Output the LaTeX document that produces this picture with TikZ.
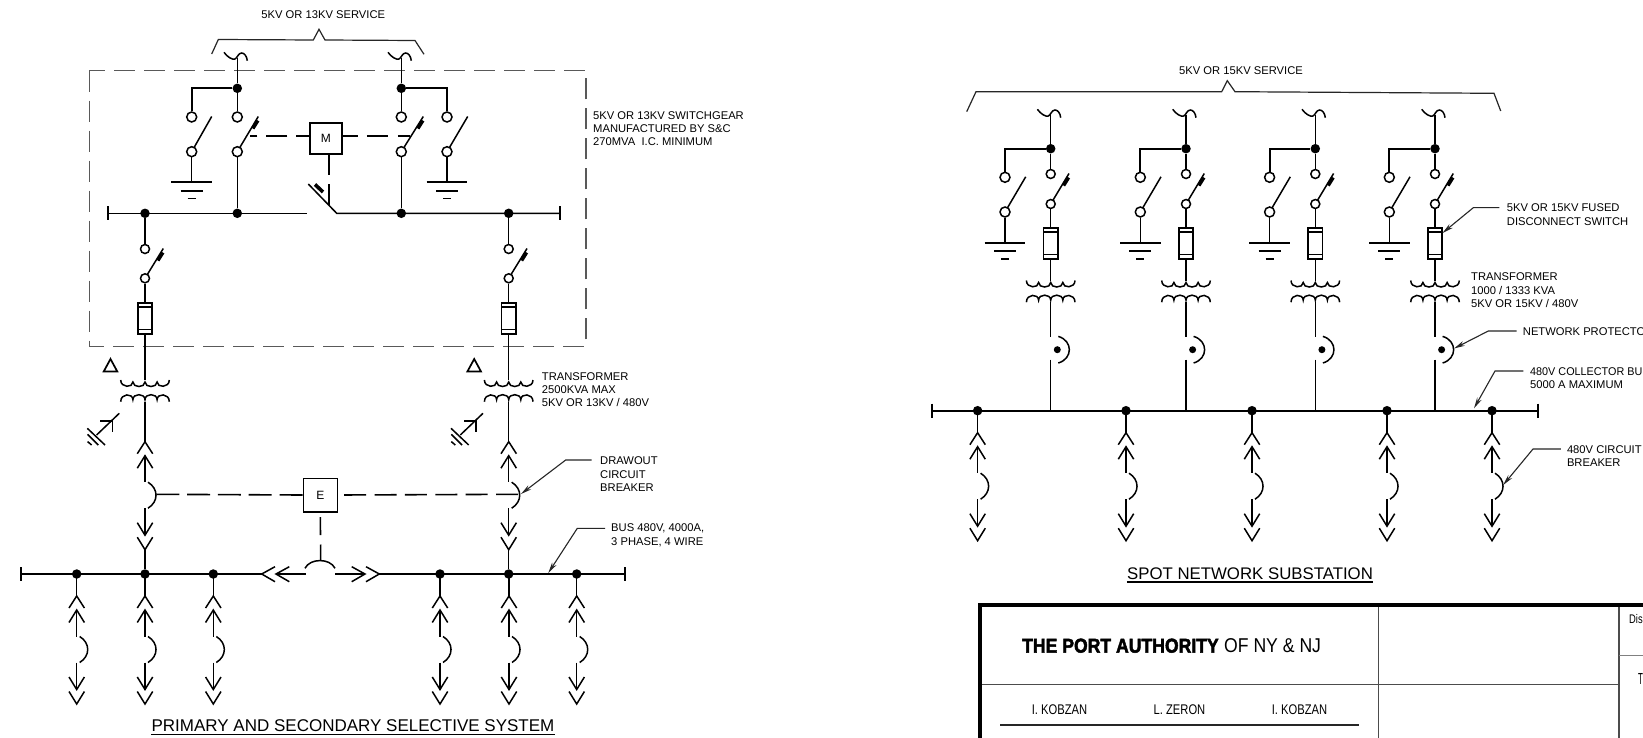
\documentclass[tikz,border=0pt]{standalone}
\usepackage{fontspec}
\usepackage{graphicx}
\usetikzlibrary{arrows.meta,calc}
\setmainfont{Liberation Sans}
\newfontfamily\heavyf[FakeBold=2.5]{Liberation Sans Bold}
\tikzset{
  wire/.style={line width=1.5pt,black},
  heavywire/.style={line width=2.1pt,black},
  thin wire/.style={line width=1.2pt,black!85},
  busbar/.style={line width=2.2pt,black},
  endtick/.style={line width=1.9pt,black},
  dot/.style={circle,fill=black,draw=none,minimum size=9.5pt,inner sep=0pt},
  smalldot/.style={circle,fill=black,draw=none,minimum size=7pt,inner sep=0pt},
  term/.style={circle,draw=black,fill=white,line width=1.5pt,inner sep=0pt},
  mech/.style={line width=1.6pt,black},
  enclosure/.style={line width=1.5pt,black!65,dash pattern=on 21pt off 9pt},
  ctrlbox/.style={draw=black,line width=1.6pt,fill=white,inner sep=0pt,font=\fontsize{12}{13}\selectfont},
  leader/.style={line width=1.1pt,black!85,-{Stealth[length=11pt,width=5pt]}},
  lbl/.style={anchor=north west,inner sep=0pt,align=left,font=\fontsize{11.2}{13.3}\selectfont},
  ttl/.style={inner sep=0pt,font=\fontsize{17}{20}\selectfont},
  blockline/.style={line width=1.3pt,black!70},
  blockheavy/.style={line width=4pt,black},
  pics/tilde/.style={code={
    \coordinate (-c) at (0,0);
    \draw[wire] (-13.3,-5.7) .. controls (-10,-1) and (-5,2) .. (-2.3,1) .. controls (0,0) and (1,-5) .. (4.3,-5) .. controls (7,-5) and (9.5,-2) .. (10,2.7);
  }},
  pics/knife/.style n args={3}{code={
    \draw[wire] (0,#1) -- (#2,-0.5);
    \node[term,minimum size=#3pt] (-t) at (0,0) {};
    \node[term,minimum size=#3pt] (-b) at (0,#1) {};
  }},
  pics/tickknife/.style n args={3}{code={
    \draw[wire] (0,#1) -- (#2,-0.5);
    \draw[line width=3.6pt,black] (#2-5.5,11.5) -- (#2-0.5,3.5);
    \node[term,minimum size=#3pt] (-t) at (0,0) {};
    \node[term,minimum size=#3pt] (-b) at (0,#1) {};
  }},
  pics/earth/.style={code={
    \coordinate (-c) at (0,0);
    \draw[line width=2pt,black] (-20.3,0) -- (20.3,0);
    \draw[line width=1.9pt,black] (-11,8.3) -- (11,8.3);
    \draw[line width=1.6pt,black] (-4,16.3) -- (4,16.3);
  }},
  pics/fuse/.style={code={
    \draw[line width=1.7pt,black] (-7.2,0) rectangle (7.2,31);
    \draw[line width=1.3pt,black] (-7.2,3.8) -- (7.2,3.8) (-7.2,26.2) -- (7.2,26.2);
    \coordinate (-t) at (0,0);
    \coordinate (-b) at (0,31);
  }},
  pics/transf/.style={code={
    \coordinate (-t) at (0,0);
    \coordinate (-b) at (0,21.7);
    \draw[wire] (-24.3,0) .. controls (-24.3,8) and (-12.1,8) .. (-12.1,2)
                .. controls (-12.1,8) and (0,8) .. (0,2)
                .. controls (0,8) and (12.1,8) .. (12.1,2)
                .. controls (12.1,8) and (24.3,8) .. (24.3,0);
    \draw[wire] (-24.3,21.7) .. controls (-24.3,13) and (-12.1,13) .. (-12.1,19.7)
                .. controls (-12.1,13) and (0,13) .. (0,19.7)
                .. controls (0,13) and (12.1,13) .. (12.1,19.7)
                .. controls (12.1,13) and (24.3,13) .. (24.3,21.7);
  }},
  pics/delta/.style={code={
    \draw[line width=1.7pt,black] (-6.8,6.5) -- (0,-6) -- (6.8,6.5) -- cycle;
  }},
  pics/wye/.style={code={
    \coordinate (-c) at (0,0);
    \draw[wire] (0,0) -- (-22.7,21.7);
    \draw[wire] (-7,18.3) -- (-7,7.7) -- (-19.3,7.7);
    \draw[wire] (-32,15) -- (-14.3,31.7);
    \draw[wire] (-31.7,21) -- (-21,31.7);
    \draw[wire] (-31.7,28.3) -- (-27.7,31.7);
  }},
  pics/feeder/.style={code={
    \coordinate (-top) at (0,0);
    \coordinate (-bot) at (0,130);
    \draw[wire] (0,0) -- (0,22);
    \draw[wire] (-7.7,34) -- (0,22) -- (7.7,34);
    \draw[wire] (-7.7,48.5) -- (0,36) -- (7.7,48.5);
    \draw[wire] (0,36) -- (0,62.5);
    \draw[wire] (3,62.5) .. controls (13.7,69) and (13.7,82) .. (3,88.5);
    \draw[wire] (0,88.5) -- (0,115.5);
    \draw[wire] (-7.7,103) -- (0,115.5) -- (7.7,103);
    \draw[wire] (-7.7,117.5) -- (0,130) -- (7.7,117.5);
  }},
  pics/protector/.style={code={
    \coordinate (-t) at (0,-13);
    \coordinate (-b) at (0,10);
    \node[smalldot] (-d) at (6.6,0) {};
    \draw[wire] (7.6,-13.3) .. controls (22.3,-9) and (22.3,9) .. (7.6,13.3);
  }},
}
\begin{document}
\begin{tikzpicture}[x=1pt,y=-1pt]
\useasboundingbox (0,0) rectangle (1643,738);
\clip (0,0) rectangle (1643,738);
\fill[white] (0,0) rectangle (1643,738);

%================ LEFT: PRIMARY AND SECONDARY SELECTIVE
\node[inner sep=0pt,font=\fontsize{11.2}{13}\selectfont] (svcL) at (323.3,15) {5KV OR 13KV SERVICE};
\coordinate (bL0) at (211.7,54); \coordinate (bL1) at (218.3,39.5); \coordinate (bL2) at (313.3,40);
\coordinate (bL3) at (319,29.3); \coordinate (bL4) at (325,40); \coordinate (bL5) at (415,40.5); \coordinate (bL6) at (424,54.3);
\draw[thin wire] (bL0) -- (bL1) -- (bL2) -- (bL3) -- (bL4) -- (bL5) -- (bL6);
\coordinate (encA) at (89.3,70.7); \coordinate (encB) at (586,346.7);
\draw[enclosure] (encA) rectangle (encB);
\node[lbl] (lblSG) at (593,111.3) {5KV OR 13KV SWITCHGEAR\\MANUFACTURED BY S\&C\\270MVA\ \ I.C. MINIMUM};

\pic (tA) at (237.3,58) {tilde};
\pic (tB) at (401.3,58) {tilde};
\node[dot] (jA) at (237.3,88.3) {};
\node[dot] (jB) at (401.3,88.3) {};
\pic (gsA) at (191.7,117) {knife={34.7}{20}{10}};
\pic (gsB) at (447,117) {knife={34.7}{20.7}{10}};
\pic (msA) at (237.3,117) {tickknife={34.7}{21}{10}};
\pic (msB) at (401.3,117) {tickknife={34.7}{22}{10}};
\pic (eA) at (191.7,182.3) {earth};
\pic (eB) at (447,182.3) {earth};
\node[dot] (bA) at (237.3,213.3) {};
\node[dot] (bB) at (401.3,213.3) {};
\draw[wire] (tA-c) -- (jA);
\draw[wire] (tB-c) -- (jB);
\draw[heavywire] (jA) -| (gsA-t);
\draw[heavywire] (jB) -| (gsB-t);
\draw[wire] (jA) -- (msA-t);
\draw[wire] (jB) -- (msB-t);
\draw[wire] (gsA-b) -- (eA-c);
\draw[wire] (gsB-b) -- (eB-c);
\draw[wire] (msA-b) -- (bA);
\draw[wire] (msB-b) -- (bB);

\coordinate (hvL) at (108.3,213.3);
\coordinate (hvR) at (560,213.3);
\coordinate (tieL) at (306.7,213.3);
\coordinate (tieR) at (336.7,213.3);
\coordinate (tieE) at (308.3,184);
\node[dot] (hv1) at (145,213.3) {};
\node[dot] (hv2) at (508.7,213.3) {};
\draw[wire] (hvL) -- (tieL);
\draw[wire] (tieE) -- (tieR) -- (hvR);
\draw[line width=3.6pt,black] (315,184.5) -- (323,192);
\draw[endtick] ([yshift=7pt]hvL) -- ([yshift=-7pt]hvL);
\draw[endtick] ([yshift=7pt]hvR) -- ([yshift=-7pt]hvR);

\node[ctrlbox,minimum width=31.7pt,minimum height=31pt] (M) at (325.9,138.8) {M};
\coordinate (mL) at (250,136); \coordinate (mR) at (410,136); \coordinate (mD) at (329,205);
\draw[mech,dash pattern=on 13pt off 9pt on 21pt off 9pt on 21pt off 9pt] (mL -| M.west) -- (mL);
\draw[mech,dash pattern=on 15.3pt off 9pt on 21pt off 10pt on 21pt off 9pt] (mR -| M.east) -- (mR);
\draw[mech,dash pattern=on 20pt off 9pt on 21pt off 9pt] (mD |- M.south) -- (mD);

\foreach \n/\x in {L/145,R/508.7}{
  \pic (dsw\n) at (\x,249) {tickknife={29.3}{18.3}{9}};
  \pic (fu\n) at (\x,303.3) {fuse};
  \pic (tx\n) at (\x,380) {transf};
  \pic (fd\n) at (\x,419.7) {feeder};
  \pic (wy\n) at (\x-25.7,413.3) {wye};
  \pic at (\x-34.5,365) {delta};
  \node[dot] (b2\n) at (\x,574) {};
}
\draw[wire] (hv1) -- (dswL-t);
\draw[wire] (hv2) -- (dswR-t);
\draw[wire] (dswL-b) -- (fuL-t);
\draw[wire] (dswR-b) -- (fuR-t);
\draw[wire] (fuL-b) -- (txL-t);
\draw[wire] (fuR-b) -- (txR-t);
\draw[wire] (txL-b) -- (fdL-top);
\draw[wire] (txR-b) -- (fdR-top);
\draw[wire] (fdL-bot) -- (b2L);
\draw[wire] (fdR-bot) -- (b2R);

\node[lbl] (lblT1) at (541.7,372) {TRANSFORMER\\2500KVA MAX\\5KV OR 13KV / 480V};
\node[lbl] (lblD) at (600,456.7) {DRAWOUT\\CIRCUIT\\BREAKER};
\coordinate (lD0) at (591.7,460); \coordinate (lD1) at (565.7,460); \coordinate (lD2) at (521,494);
\draw[leader] (lD0) -- (lD1) -- (lD2);
\node[lbl] (lblB) at (611,523.7) {BUS 480V, 4000A,\\3 PHASE, 4 WIRE};
\coordinate (lB0) at (605,528.3); \coordinate (lB1) at (577.3,528.3); \coordinate (lB2) at (548.3,573);
\draw[leader] (lB0) -- (lB1) -- (lB2);

% interlock E
\node[ctrlbox,minimum width=34pt,minimum height=33.4pt] (E) at (320.3,495) {E};
\coordinate (eL) at (156,494.3); \coordinate (eR) at (519,494.3); \coordinate (eD) at (320.7,560.7);
\draw[mech,dash pattern=on 23pt off 7.8pt] (E.west) -- (eL);
\draw[mech,dash pattern=on 22pt off 8.4pt,dash phase=24.4pt] (E.east) -- (eR);
\draw[mech,dash pattern=on 18pt off 9.3pt,dash phase=22.6pt] (E.south) -- (eD);

% secondary bus
\coordinate (lvL) at (20.7,574);
\coordinate (lvR) at (625,574);
\coordinate (cL) at (261.7,574); \coordinate (cR) at (379.3,574);
\node[dot] (s1) at (76.7,574) {};
\node[dot] (s3) at (213.3,574) {};
\node[dot] (s4) at (440,574) {};
\node[dot] (s6) at (576.7,574) {};
\draw[busbar] (lvL) -- (cL);
\draw[busbar] (cR) -- (lvR);
\draw[endtick] ([yshift=7pt]lvL) -- ([yshift=-7pt]lvL);
\draw[endtick] ([yshift=7pt]lvR) -- ([yshift=-7pt]lvR);
\draw[wire] (275,566.7) -- (cL) -- (275,581.7);
\draw[wire] (289.3,566.7) -- (276,574) -- (289.3,581.7);
\draw[wire] (276,574) -- (305.7,574);
\draw[wire] (335,574) -- (365,574);
\draw[wire] (351.7,566.7) -- (365,574) -- (351.7,581.7);
\draw[wire] (366,566.7) -- (cR) -- (366,581.7);
\draw[wire] (305,568.3) .. controls (310,558) and (330,558) .. (335,568.3);
\foreach \x in {76.7,145,213.3,440,509,576.7}{
  \pic at (\x,574) {feeder};
}
\node[ttl] (ttlL) at (353,726) {PRIMARY AND SECONDARY SELECTIVE SYSTEM};
\draw[line width=1.8pt] ([yshift=-2.6pt]ttlL.base west) -- ([yshift=-2.6pt]ttlL.base east);

%================ RIGHT: SPOT NETWORK
\node[inner sep=0pt,font=\fontsize{11.2}{13}\selectfont] (svcR) at (1241,71) {5KV OR 15KV SERVICE};
\coordinate (bR0) at (966.7,111.7); \coordinate (bR1) at (976,91.7); \coordinate (bR2) at (1221.7,91.7);
\coordinate (bR3) at (1227.3,80.7); \coordinate (bR4) at (1235,91.7); \coordinate (bR5) at (1494,93.3); \coordinate (bR6) at (1500.7,111);
\draw[thin wire] (bR0) -- (bR1) -- (bR2) -- (bR3) -- (bR4) -- (bR5) -- (bR6);

\coordinate (cbL) at (931.7,410.7);
\coordinate (cbR) at (1538,410.7);
\draw[busbar] (cbL) -- (cbR);
\draw[endtick] ([yshift=7pt]cbL) -- ([yshift=-7pt]cbL);
\draw[endtick] ([yshift=7pt]cbR) -- ([yshift=-7pt]cbR);

\foreach \i/\x in {1/1050.7,2/1186,3/1315.3,4/1435}{
  \pic (rt\i) at (\x,115) {tilde};
  \node[dot] (rj\i) at (\x,148.7) {};
  \pic (rg\i) at (\x-45.7,177.3) {knife={34.7}{20.7}{10}};
  \pic (rm\i) at (\x,174) {tickknife={30}{18.3}{9}};
  \pic (re\i) at (\x-45.7,242.7) {earth};
  \pic (rf\i) at (\x,228.3) {fuse};
  \pic (rx\i) at (\x,280.5) {transf};
  \pic (rp\i) at (\x,349.7) {protector};
  \coordinate (rb\i) at (\x,410.7);
  \draw[wire] (rt\i-c) -- (rj\i);
  \draw[heavywire] (rj\i) -| (rg\i-t);
  \draw[wire] (rj\i) -- (rm\i-t);
  \draw[wire] (rg\i-b) -- (re\i-c);
  \draw[wire] (rm\i-b) -- (rf\i-t);
  \draw[wire] (rf\i-b) -- (rx\i-t);
  \draw[wire] (rx\i-b) -- (rp\i-t);
  \draw[wire] (rp\i-b) -- (rb\i);
}
\foreach \x in {977.6,1126,1252,1387,1492}{
  \node[dot] at (\x,410.7) {};
  \pic at (\x,410.7) {feeder};
}

\node[lbl] (lblFD) at (1506.7,203.7) {5KV OR 15KV FUSED\\DISCONNECT SWITCH};
\coordinate (lF0) at (1499.3,207.7); \coordinate (lF1) at (1473.3,207.7); \coordinate (lF2) at (1442.5,233);
\draw[leader] (lF0) -- (lF1) -- (lF2);
\node[lbl] (lblT2) at (1471,272.7) {TRANSFORMER\\1000 / 1333 KVA\\5KV OR 15KV / 480V};
\node[lbl] (lblNP) at (1522.7,327) {NETWORK PROTECTO};
\coordinate (lN0) at (1516.7,331); \coordinate (lN1) at (1488.3,331); \coordinate (lN2) at (1454,348.5);
\draw[leader] (lN0) -- (lN1) -- (lN2);
\node[lbl] (lblCB) at (1530,367) {\scalebox{0.965}[1]{480V COLLECTOR BU}\\5000 A MAXIMUM};
\coordinate (lC0) at (1523.3,371); \coordinate (lC1) at (1495,371); \coordinate (lC2) at (1474,408.3);
\draw[leader] (lC0) -- (lC1) -- (lC2);
\node[lbl] (lblCK) at (1566.8,445.3) {480V CIRCUIT\\BREAKER};
\coordinate (lK0) at (1560.8,449); \coordinate (lK1) at (1533,449); \coordinate (lK2) at (1503.2,485);
\draw[leader] (lK0) -- (lK1) -- (lK2);

\node[inner sep=0pt,font=\fontsize{16.8}{20}\selectfont] (ttlR) at (1250,573.3) {SPOT NETWORK SUBSTATION};
\draw[line width=1.8pt] ([yshift=-2.6pt]ttlR.base west) -- ([yshift=-2.6pt]ttlR.base east);

%================ TITLE BLOCK
\coordinate (tbTL) at (980,605);
\coordinate (tbBL) at (980,738);
\coordinate (tbTR) at (1643,605);
\coordinate (tbM) at (1378.7,605); \coordinate (tbMb) at (1378.7,738);
\coordinate (tbR) at (1619,605); \coordinate (tbRb) at (1619,738);
\coordinate (tbH0) at (980,684.8); \coordinate (tbH1) at (1619,684.8);
\coordinate (tbS0) at (1619,655); \coordinate (tbS1) at (1643,655);
\coordinate (sg0) at (1000,725); \coordinate (sg1) at (1359.3,725);
\draw[blockline] (tbM) -- (tbMb);
\draw[blockline] (tbR) -- (tbRb);
\draw[blockline] (tbH0) -- (tbH1);
\draw[line width=0.9pt,black!50] (tbS0) -- (tbS1);
\draw[line width=1.2pt,black!85] (sg0) -- (sg1);
\draw[blockheavy] (tbBL) -- (tbTL) -- (tbTR);
\node[inner sep=0pt,anchor=west] (pa1) at (1022,645.7) {\scalebox{0.88}[1]{\heavyf\fontsize{20}{22}\selectfont THE PORT AUTHORITY}};
\node[inner sep=0pt,anchor=west] (pa2) at (1224,645.7) {\scalebox{0.88}[1]{\fontsize{20}{22}\selectfont OF NY \& NJ}};
\node[inner sep=0pt] (sgA) at (1059.5,710) {\scalebox{0.8}[1]{\fontsize{14}{16}\selectfont I. KOBZAN}};
\node[inner sep=0pt] (sgB) at (1179.5,710) {\scalebox{0.8}[1]{\fontsize{14}{16}\selectfont L. ZERON}};
\node[inner sep=0pt] (sgC) at (1299.5,710) {\scalebox{0.8}[1]{\fontsize{14}{16}\selectfont I. KOBZAN}};
\node[inner sep=0pt,anchor=west] (dis) at (1629,619.3) {\scalebox{0.75}[1]{\fontsize{12.5}{14}\selectfont Dis}};
\node[inner sep=0pt,anchor=west] (tt) at (1638,679) {\scalebox{0.5}[1]{\fontsize{16}{18}\selectfont T}};
\end{tikzpicture}
\end{document}
